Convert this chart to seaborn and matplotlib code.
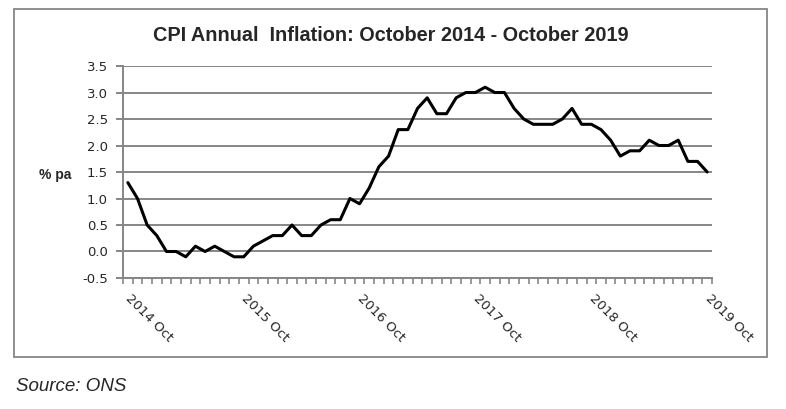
import numpy as np
import pandas as pd
import matplotlib
matplotlib.use('Agg')
import matplotlib.pyplot as plt
import seaborn as sns
from matplotlib.patches import Rectangle

# CPI annual rate, Oct 2014 - Oct 2019 (monthly)
cpi_2014 = [1.3, 1.0, 0.5]
cpi_2015 = [0.3, 0.0, 0.0, -0.1, 0.1, 0.0, 0.1, 0.0, -0.1, -0.1, 0.1, 0.2]
cpi_2016 = [0.3, 0.3, 0.5, 0.3, 0.3, 0.5, 0.6, 0.6, 1.0, 0.9, 1.2, 1.6]
cpi_2017 = [1.8, 2.3, 2.3, 2.7, 2.9, 2.6, 2.6, 2.9, 3.0, 3.0, 3.1, 3.0]
cpi_2018 = [3.0, 2.7, 2.5, 2.4, 2.4, 2.4, 2.5, 2.7, 2.4, 2.4, 2.3, 2.1]
cpi_2019 = [1.8, 1.9, 1.9, 2.1, 2.0, 2.0, 2.1, 1.7, 1.7, 1.5]
tick_labels = ['2014 Oct', '2015 Oct', '2016 Oct', '2017 Oct', '2018 Oct', '2019 Oct']
y_ticks = [-0.5, 0.0, 0.5, 1.0, 1.5, 2.0, 2.5, 3.0, 3.5]

cpi = cpi_2014 + cpi_2015 + cpi_2016 + cpi_2017 + cpi_2018 + cpi_2019
df = pd.DataFrame({'month': np.arange(len(cpi)), 'cpi': cpi})

sns.set_style('white')
plt.rcParams['font.family'] = ['DejaVu Sans']
grey = '#868686'

fig = plt.figure(figsize=(7.86, 4.09), dpi=100)
ax = fig.add_axes([0.1565, 0.3203, 0.7494, 0.5183])

sns.lineplot(data=df, x='month', y='cpi', ax=ax, color='black', linewidth=2.2)

ax.set_xlim(-0.5, len(cpi) - 0.5)
ax.set_ylim(-0.5, 3.5)
ax.set_yticks(y_ticks)
ax.set_yticklabels(['%.1f' % v for v in y_ticks], fontsize=9.5)
ax.yaxis.grid(True, color=grey, linewidth=1.4)
ax.set_axisbelow(True)
for s in ['top', 'right']:
    ax.spines[s].set_visible(False)
for s in ['left', 'bottom']:
    ax.spines[s].set_color(grey)
    ax.spines[s].set_linewidth(1.4)
ax.tick_params(axis='y', length=5, width=1.4, color=grey, left=True, pad=6)

# month boundaries as minor ticks, year labels as major
ax.set_xticks(np.arange(len(cpi) + 1) - 0.5, minor=True)
ax.set_xticks(np.arange(0, len(cpi), 12))
ax.set_xticklabels(tick_labels, fontsize=9.5, rotation=-45, ha='left',
                   va='center', rotation_mode='anchor')
ax.tick_params(axis='x', which='minor', length=4, width=1.2, color=grey, bottom=True)
ax.tick_params(axis='x', which='major', length=0, pad=13)
ax.set_xlabel('')
ax.set_ylabel('')

fig.text(0.07, 0.572, '% pa', fontsize=10, fontweight='bold',
         family='Liberation Sans', ha='center', va='center')
fig.text(0.497, 0.912, 'CPI Annual  Inflation: October 2014 - October 2019',
         fontsize=14.3, fontweight='bold', family='Liberation Sans',
         ha='center', va='center')
fig.text(0.02, 0.055, 'Source: ONS', fontsize=13.5, style='italic',
         family='Liberation Sans', ha='left', va='center')

fig.patches.append(Rectangle((0.0184, 0.126), 0.9574, 0.8508, transform=fig.transFigure,
                             fill=False, edgecolor=grey, linewidth=1.3))

fig.savefig('out.png', dpi=100)
